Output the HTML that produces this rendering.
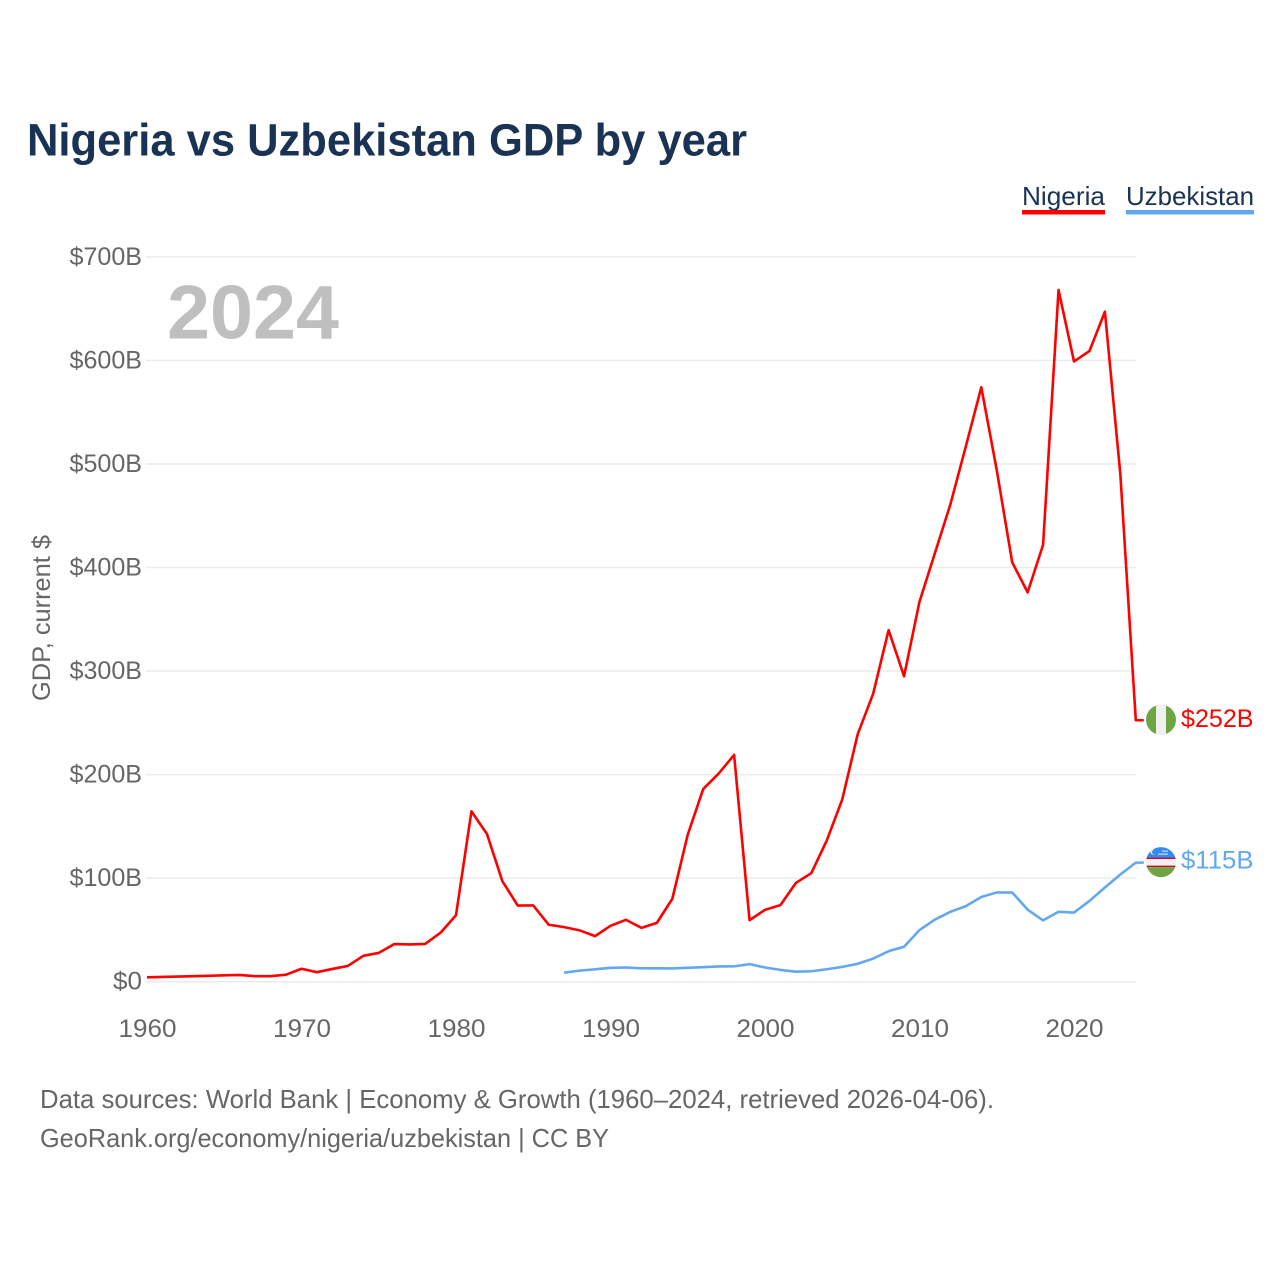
<!DOCTYPE html>
<html lang="en">
<head>
<meta charset="utf-8">
<title>Nigeria vs Uzbekistan GDP by year</title>
<style>
html,body{margin:0;padding:0;background:#fff;width:1280px;height:1280px;overflow:hidden}
svg{display:block}
text{font-family:"Liberation Sans",sans-serif}
</style>
</head>
<body>
<svg id="chart" xmlns="http://www.w3.org/2000/svg" width="1280" height="1280" viewBox="0 0 1280 1280">
  <defs>
    <clipPath id="clip-ng"><circle cx="0" cy="0" r="15"/></clipPath>
    <clipPath id="clip-uz"><circle cx="0" cy="0" r="15"/></clipPath>
  </defs>
  <rect width="1280" height="1280" fill="#ffffff"/>
  <text x="27" y="155.5" font-size="45" font-weight="700" fill="#1a3354" textLength="720" lengthAdjust="spacingAndGlyphs">Nigeria vs Uzbekistan GDP by year</text>

  <g>
    <text x="1022" y="205" font-size="26" fill="#1a3354" textLength="83" lengthAdjust="spacingAndGlyphs">Nigeria</text>
    <rect x="1022" y="210" width="83" height="4.5" fill="#ff0000"/>
  </g>
  <g>
    <text x="1126" y="205" font-size="26" fill="#1a3354" textLength="128" lengthAdjust="spacingAndGlyphs">Uzbekistan</text>
    <rect x="1126" y="210" width="128" height="4.5" fill="#62a8ee"/>
  </g>

  <text transform="translate(50,618) rotate(-90)" text-anchor="middle" font-size="25" fill="#666666" textLength="166" lengthAdjust="spacingAndGlyphs">GDP, current $</text>

  <g id="grid"></g>
  <g id="y-labels"></g>
  <g id="x-labels"></g>

  <text x="167" y="338.5" font-size="76" font-weight="700" fill="#bfbfbf" textLength="172" lengthAdjust="spacingAndGlyphs">2024</text>

  <g id="series"></g>

  <g id="flag-ng">
    <g clip-path="url(#clip-ng)">
      <rect x="-15" y="-15" width="30" height="30" fill="#6da544"/>
      <rect x="-5" y="-15" width="10" height="30" fill="#f0f0f0"/>
    </g>
  </g>
  <g id="flag-uz">
    <g clip-path="url(#clip-uz)">
      <rect x="-15" y="-15" width="30" height="30" fill="#f0f0f0"/>
      <rect x="-15" y="-15" width="30" height="11" fill="#338af3"/>
      <rect x="-15" y="-4.5" width="30" height="1.4" fill="#d80027"/>
      <rect x="-15" y="3.5" width="30" height="1.4" fill="#d80027"/>
      <rect x="-15" y="5" width="30" height="10" fill="#6da544"/>
      <circle cx="-8" cy="-10" r="2.4" fill="#f0f0f0"/>
      <circle cx="-7" cy="-10" r="2" fill="#338af3"/>
      <rect x="-3" y="-8.5" width="10" height="1" fill="#e8eef8"/>
      <rect x="1" y="-11.5" width="6" height="1" fill="#e8eef8"/>
    </g>
  </g>
  <g id="end-labels"></g>

  <text x="40" y="1108" font-size="26" fill="#666666" textLength="954" lengthAdjust="spacingAndGlyphs">Data sources: World Bank | Economy &amp; Growth (1960–2024, retrieved 2026-04-06).</text>
  <text x="40" y="1147" font-size="26" fill="#666666" textLength="569" lengthAdjust="spacingAndGlyphs">GeoRank.org/economy/nigeria/uzbekistan | CC BY</text>
</svg>
<script>
const yTickValues = [0, 100, 200, 300, 400, 500, 600, 700];
const yTickLabels = ['$0', '$100B', '$200B', '$300B', '$400B', '$500B', '$600B', '$700B'];
const xTickValues = [1960, 1970, 1980, 1990, 2000, 2010, 2020];
const xTickLabels = ['1960', '1970', '1980', '1990', '2000', '2010', '2020'];

const nigeriaStartYear = 1960;
const nigeriaValues = [
  4.2, 4.6, 5.0, 5.3, 5.7, 6.2, 6.5, 5.3, 5.3, 6.8,
  12.5, 9.2, 12.3, 15.2, 25.0, 27.8, 36.3, 36.0, 36.5, 47.3,
  64.2, 164.5, 142.8, 97.1, 73.5, 73.7, 55.0, 52.7, 49.6, 44.0,
  54.0, 59.8, 52.0, 56.8, 80.0, 142.0, 186.0, 201.0, 219.0, 59.4,
  69.4, 74.0, 95.4, 104.9, 136.4, 176.0, 239.0, 278.0, 339.5, 295.0,
  367.0, 414.0, 461.0, 517.0, 574.0, 494.0, 405.0, 376.0, 422.0, 668.0,
  599.0, 609.0, 647.0, 490.0, 252.5
];
const uzbekistanStartYear = 1987;
const uzbekistanValues = [
  8.7, 10.7, 12.0, 13.4, 13.7, 12.9, 12.9, 12.8, 13.4, 14.0,
  14.7, 14.8, 17.0, 13.7, 11.4, 9.7, 10.1, 12.0, 14.3, 17.3,
  22.3, 29.5, 33.7, 49.9, 60.0, 67.5, 73.0, 81.8, 86.2, 86.1,
  69.6, 59.2, 67.5, 66.8, 78.0, 91.0, 103.5, 115.0
];
const endLabels = ['$252B', '$115B'];

const SVGNS = 'http://www.w3.org/2000/svg';
const xScale = function (year) { return 147 + (year - 1960) * 15.45; };
const yScale = function (v) { return 981.7 - v * 1.0355; };

function make(tag, parent) {
  const el = document.createElementNS(SVGNS, tag);
  parent.appendChild(el);
  return el;
}
function labelWidth(label) {
  return label.length * 14.5;
}

const grid = document.getElementById('grid');
const yLabels = document.getElementById('y-labels');
yTickValues.forEach(function (v, i) {
  const line = make('line', grid);
  
  
  line.setAttribute('x1', 146);
  line.setAttribute('x2', 1136);
  line.setAttribute('y1', yScale(v));
  line.setAttribute('y2', yScale(v));
  line.setAttribute('stroke', '#ebebeb');
  line.setAttribute('stroke-width', 1.5);

  const t = make('text', yLabels);
  
  
  t.setAttribute('x', 142);
  t.setAttribute('y', yScale(v) + 8);
  t.setAttribute('text-anchor', 'end');
  t.setAttribute('font-size', 25);
  t.setAttribute('fill', '#666666');
  t.setAttribute('textLength', labelWidth(yTickLabels[i]));
  t.setAttribute('lengthAdjust', 'spacingAndGlyphs');
  t.textContent = yTickLabels[i];
});

const xLabels = document.getElementById('x-labels');
xTickValues.forEach(function (year, i) {
  const t = make('text', xLabels);
  
  
  t.setAttribute('x', xScale(year) + 0.5);
  t.setAttribute('y', 1037);
  t.setAttribute('text-anchor', 'middle');
  t.setAttribute('font-size', 25);
  t.setAttribute('fill', '#666666');
  t.setAttribute('textLength', labelWidth(xTickLabels[i]));
  t.setAttribute('lengthAdjust', 'spacingAndGlyphs');
  t.textContent = xTickLabels[i];
});

function pathFor(startYear, values) {
  let d = '';
  values.forEach(function (v, i) {
    d += (i === 0 ? 'M' : 'L') + xScale(startYear + i).toFixed(2) + ' ' + yScale(v).toFixed(2);
  });
  const lastX = xScale(startYear + values.length - 1);
  d += 'H' + (lastX + 8).toFixed(2);
  return d;
}

const seriesGroup = document.getElementById('series');
const nigeriaLine = make('path', seriesGroup);


nigeriaLine.setAttribute('d', pathFor(nigeriaStartYear, nigeriaValues));
nigeriaLine.setAttribute('fill', 'none');
nigeriaLine.setAttribute('stroke', '#ff0000');
nigeriaLine.setAttribute('stroke-width', 2.6);
nigeriaLine.setAttribute('stroke-linejoin', 'round');

const uzbekistanLine = make('path', seriesGroup);


uzbekistanLine.setAttribute('d', pathFor(uzbekistanStartYear, uzbekistanValues));
uzbekistanLine.setAttribute('fill', 'none');
uzbekistanLine.setAttribute('stroke', '#62a8ee');
uzbekistanLine.setAttribute('stroke-width', 2.6);
uzbekistanLine.setAttribute('stroke-linejoin', 'round');

const nigeriaEndY = yScale(nigeriaValues[nigeriaValues.length - 1]);
const uzbekistanEndY = yScale(uzbekistanValues[uzbekistanValues.length - 1]);
document.getElementById('flag-ng').setAttribute('transform', 'translate(1161,' + (nigeriaEndY - 0.5) + ')');
document.getElementById('flag-uz').setAttribute('transform', 'translate(1161,' + (uzbekistanEndY - 0.5) + ')');

const endGroup = document.getElementById('end-labels');
const nigeriaEnd = make('text', endGroup);


nigeriaEnd.setAttribute('x', 1181);
nigeriaEnd.setAttribute('y', nigeriaEndY + 7);
nigeriaEnd.setAttribute('font-size', 25);
nigeriaEnd.setAttribute('fill', '#ff0000');
nigeriaEnd.setAttribute('textLength', 72.5);
nigeriaEnd.setAttribute('lengthAdjust', 'spacingAndGlyphs');
nigeriaEnd.textContent = endLabels[0];

const uzbekistanEnd = make('text', endGroup);


uzbekistanEnd.setAttribute('x', 1181);
uzbekistanEnd.setAttribute('y', uzbekistanEndY + 6);
uzbekistanEnd.setAttribute('font-size', 25);
uzbekistanEnd.setAttribute('fill', '#62a8ee');
uzbekistanEnd.setAttribute('textLength', 72.5);
uzbekistanEnd.setAttribute('lengthAdjust', 'spacingAndGlyphs');
uzbekistanEnd.textContent = endLabels[1];
</script>
</body>
</html>
